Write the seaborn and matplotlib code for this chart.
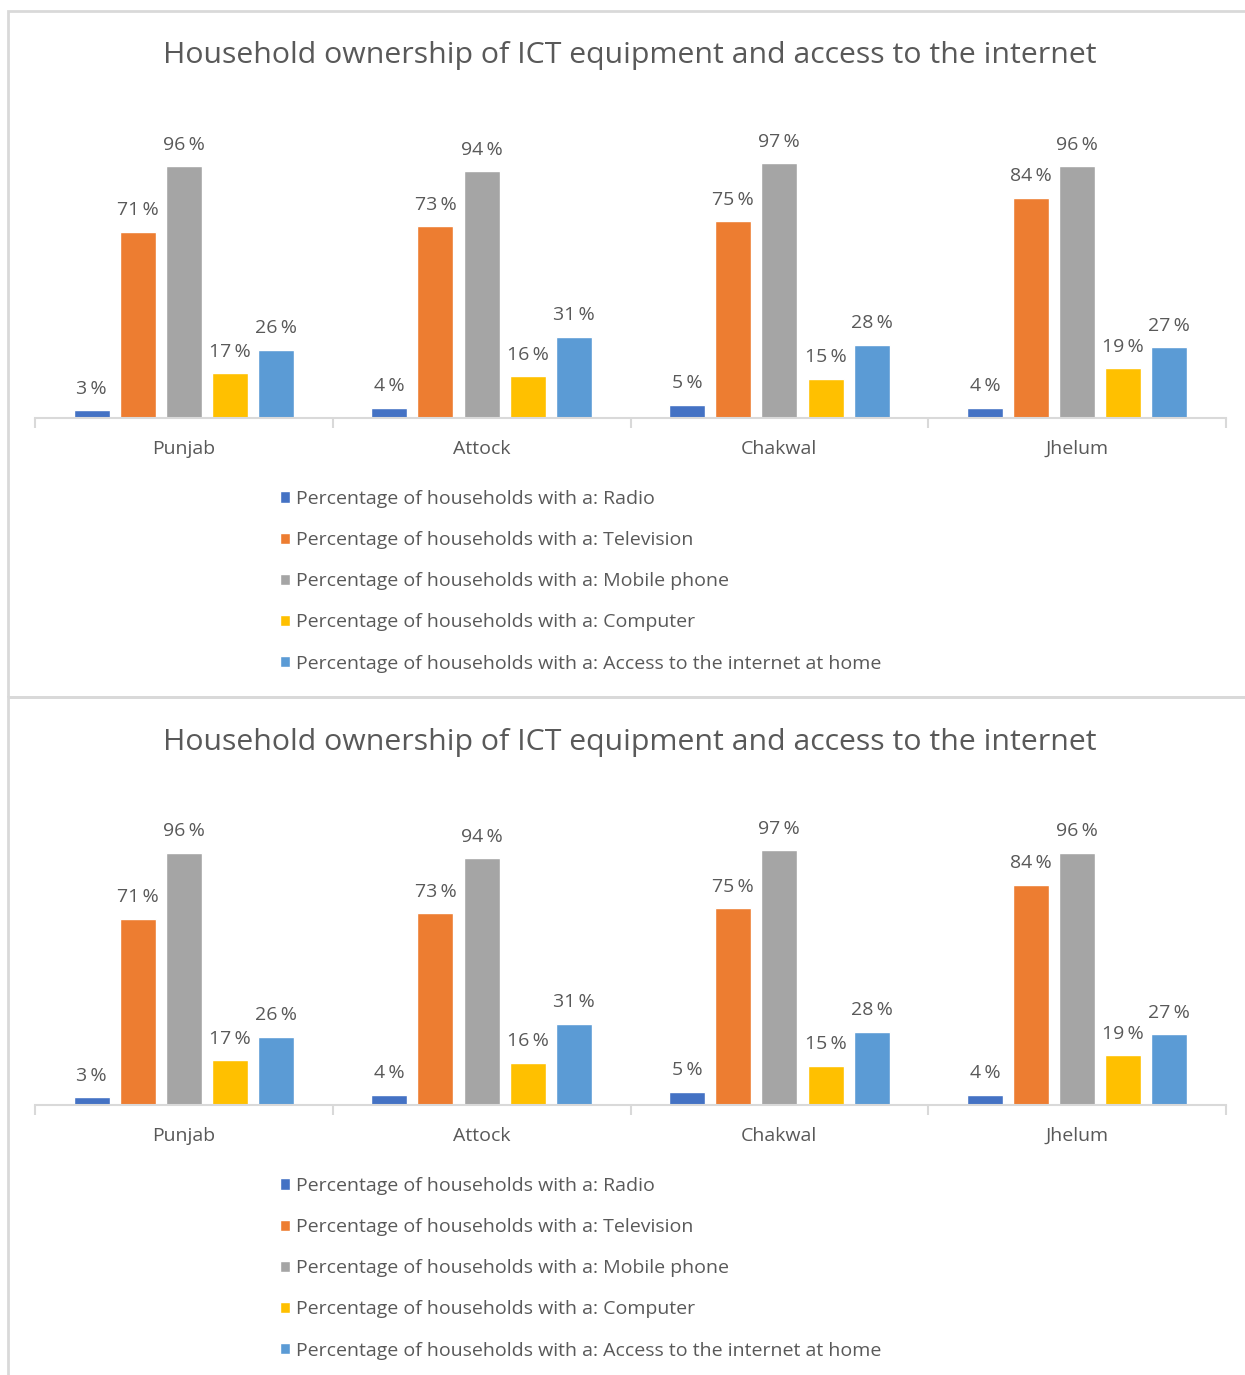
import matplotlib
matplotlib.use("Agg")
import matplotlib.pyplot as plt
import seaborn as sns
import pandas as pd
from matplotlib.patches import Rectangle

regions = ["Punjab", "Attock", "Chakwal", "Jhelum"]
items = [
    "Percentage of households with a: Radio",
    "Percentage of households with a: Television",
    "Percentage of households with a: Mobile phone",
    "Percentage of households with a: Computer",
    "Percentage of households with a: Access to the internet at home",
]
radio = [3, 4, 5, 4]
television = [71, 73, 75, 84]
mobile = [96, 94, 97, 96]
computer = [17, 16, 15, 19]
internet = [26, 31, 28, 27]
colors = ["#4472C4", "#ED7D31", "#A5A5A5", "#FFC000", "#5B9BD5"]
title = "Household ownership of ICT equipment and access to the internet"

series = [radio, television, mobile, computer, internet]
rows = []
for item, vals in zip(items, series):
    for r, v in zip(regions, vals):
        rows.append({"region": r, "item": item, "value": v})
df = pd.DataFrame(rows)

sns.set_theme(style="white")
plt.rcParams["font.family"] = ["Open Sans", "DejaVu Sans"]
TXT = "#595959"
W, H = 1245, 1375
fig = plt.figure(figsize=(W / 100, H / 100), dpi=100)

# frames
fig.patches.append(Rectangle((8 / W, 1 - 697 / H), 1.2, (697 - 11) / H,
                             transform=fig.transFigure, fill=False,
                             edgecolor="#D9D9D9", linewidth=2, clip_on=False))
fig.patches.append(Rectangle((8 / W, -0.2), 1.2, 0.2 + (1375 - 697) / H,
                             transform=fig.transFigure, fill=False,
                             edgecolor="#D9D9D9", linewidth=2, clip_on=False))

for off in [0, 687]:
    base = 418 + off
    ax = fig.add_axes([35 / W, 1 - base / H, (1226 - 35) / W, 315 / H])
    sns.barplot(data=df, x="region", y="value", hue="item", hue_order=items,
                palette=colors, width=0.775, gap=0.22, saturation=1,
                ax=ax, legend=True)
    ax.set_ylim(0, 120)
    ax.set_xlim(-0.5, 3.5)
    for cont, vals in zip(ax.containers, series):
        ax.bar_label(cont, labels=[f"{v}\u2009%" for v in vals], padding=9,
                     fontsize=14, color=TXT)
    for s in ["top", "right", "left"]:
        ax.spines[s].set_visible(False)
    ax.spines["bottom"].set_color("#D9D9D9")
    ax.spines["bottom"].set_linewidth(1.5)
    ax.set_yticks([])
    ax.set_xlabel("")
    ax.set_ylabel("")
    ax.set_xticks([0, 1, 2, 3])
    ax.set_xticklabels(regions, fontsize=14, color=TXT)
    ax.set_xticks([-0.5, 0.5, 1.5, 2.5, 3.5], minor=True)
    ax.tick_params(axis="x", which="major", length=0, pad=16)
    ax.tick_params(axis="x", which="minor", length=7, width=1.5,
                   color="#D9D9D9", direction="out", bottom=True)
    handles, labels = ax.get_legend_handles_labels()
    ax.legend(handles, labels, loc="upper left",
              bbox_to_anchor=(280 / W, 1 - (490 + off) / H),
              bbox_transform=fig.transFigure, frameon=False,
              fontsize=14, labelcolor=TXT, handlelength=0.53,
              handleheight=0.53, handletextpad=0.3, labelspacing=1.19,
              borderpad=0, borderaxespad=0)
    fig.text(630 / W, 1 - (55 + off) / H, title, ha="center", va="center",
             fontsize=21.75, color=TXT)

fig.savefig("out.png", dpi=100)
